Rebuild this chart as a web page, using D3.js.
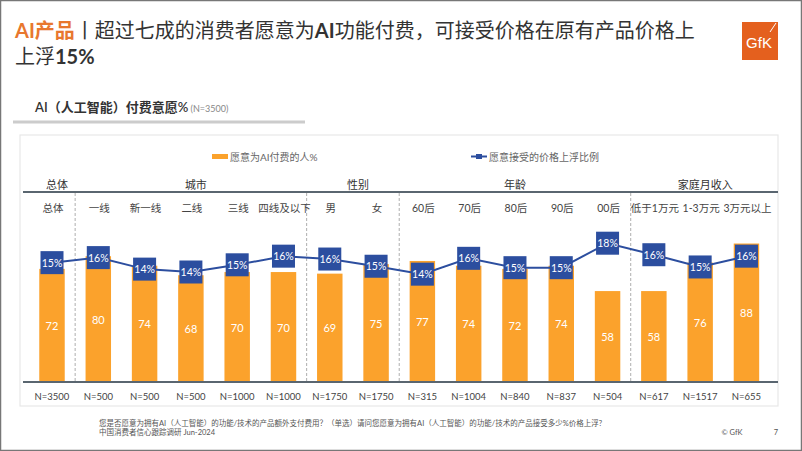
<!DOCTYPE html>
<html><head><meta charset="utf-8">
<script src="https://cdn.jsdelivr.net/npm/d3@7"></script>
<style>
html,body{margin:0;padding:0;background:#fff;}
svg{display:block;font-family:"Lato","Noto Sans CJK SC",sans-serif;}
</style></head>
<body>
<svg id="c" width="802" height="451"></svg>
<script>
const categories = ["总体","一线","新一线","二线","三线","四线及以下","男","女","60后","70后","80后","90后","00后","低于1万元","1-3万元","3万元以上"];
const groupOf = ["总体","城市","城市","城市","城市","城市","性别","性别","年龄","年龄","年龄","年龄","年龄","家庭月收入","家庭月收入","家庭月收入"];
const groupNames = ["总体","城市","性别","年龄","家庭月收入"];
const willingness = [72,80,74,68,70,70,69,75,77,74,72,74,58,58,76,88];
const priceUp = [15.3,16.0,14.4,14.0,15.0,16.2,15.8,14.8,13.7,15.9,14.6,14.6,18.0,16.4,14.7,16.2];
const sampleN = [3500,500,500,500,1000,1000,1750,1750,315,1004,840,837,504,617,1517,655];
const seriesNames = ["愿意为AI付费的人%","愿意接受的价格上浮比例"];

const svg = d3.select("#c");
const ORANGE = "#FBA22C", BLUE = "#2C4E9F", DARK = "#5a6670";

// slide border
svg.append("rect").attr("x",0.5).attr("y",0.5).attr("width",801).attr("height",450)
  .attr("fill","none").attr("stroke","#777").attr("stroke-width",1.5);

// title
const t1 = svg.append("text").attr("x",15).attr("y",38).attr("font-size",20).attr("fill","#333");
t1.append("tspan").text("AI产品").attr("fill","#E8772E").attr("font-weight","bold");
t1.append("tspan").text("丨超过七成的消费者愿意为");
t1.append("tspan").text("AI").attr("font-weight","bold");
t1.append("tspan").text("功能付费，可接受价格在原有产品价格上");
const t2 = svg.append("text").attr("x",15).attr("y",64).attr("font-size",20).attr("fill","#333");
t2.append("tspan").text("上浮");
t2.append("tspan").text("15%").attr("font-weight","bold");

// logo
const lg = svg.append("g");
lg.append("rect").attr("x",742).attr("y",22).attr("width",36).attr("height",38).attr("fill","#E4601E");
lg.append("text").attr("x",759).attr("y",48).attr("text-anchor","middle").attr("font-size",15)
  .attr("fill","#fff").attr("font-family","Liberation Sans, sans-serif").text("GfK");
lg.append("line").attr("x1",770).attr("y1",32).attr("x2",776).attr("y2",23).attr("stroke","#fff").attr("stroke-width",1);

// subtitle
const st = svg.append("text").attr("x",35).attr("y",112).attr("font-size",13).attr("fill","#333").attr("font-weight",600);
st.append("tspan").text("AI（人工智能）付费意愿%");
st.append("tspan").text(" (N=3500)").attr("font-size",9).attr("fill","#888").attr("font-weight",400);
svg.append("line").attr("x1",13).attr("x2",305).attr("y1",122).attr("y2",122).attr("stroke","#ccc").attr("stroke-width",3);

// panel
svg.append("rect").attr("x",20).attr("y",135).attr("width",758).attr("height",271)
  .attr("fill","none").attr("stroke","#e8e8e8").attr("stroke-width",1.2);

// scales
const x = d3.scaleBand().domain(categories).range([28.85,769.6]).paddingInner(0.45).paddingOuter(0.225);
const y = d3.scaleLinear().domain([0,100]).range([383,224.5]);
const y2 = d3.scaleLinear().domain([10,20]).range([300.8,228.8]);
const cx = c => x(c) + x.bandwidth()/2;

// legend
const lgd = svg.append("g").attr("font-size",10).attr("fill","#666");
lgd.append("rect").attr("x",212).attr("y",154).attr("width",16).attr("height",5).attr("fill",ORANGE);
lgd.append("text").attr("x",230).attr("y",160.5).text(seriesNames[0]);
lgd.append("line").attr("x1",471).attr("x2",487).attr("y1",156.5).attr("y2",156.5).attr("stroke",BLUE).attr("stroke-width",2);
lgd.append("rect").attr("x",476).attr("y",154).attr("width",6).attr("height",5).attr("fill",BLUE);
lgd.append("text").attr("x",489).attr("y",160.5).text(seriesNames[1]);

// group headers
groupNames.forEach(g => {
  const idx = categories.map((c,i)=>i).filter(i => groupOf[i]===g);
  const mid = (cx(categories[idx[0]]) + cx(categories[idx[idx.length-1]]))/2;
  svg.append("text").attr("x",mid + (g==="年龄"?0:5)).attr("y",189).attr("text-anchor","middle")
    .attr("font-size",11).attr("fill","#333").text(g);
});
svg.append("line").attr("x1",23).attr("x2",778).attr("y1",192).attr("y2",192).attr("stroke",DARK).attr("stroke-width",2);

// separators
for (let i=1;i<categories.length;i++){
  if (groupOf[i]!==groupOf[i-1]){
    const sx = (cx(categories[i-1]) + cx(categories[i]))/2;
    svg.append("line").attr("x1",sx).attr("x2",sx).attr("y1",193).attr("y2",382)
      .attr("stroke","#999").attr("stroke-width",0.8).attr("stroke-dasharray","3,2");
  }
}

// category labels
svg.append("g").selectAll("text").data(categories).join("text")
  .attr("x",d=>cx(d)+1).attr("y",212).attr("text-anchor","middle").attr("font-size",10.5).attr("fill","#444").text(d=>d);

// bars
svg.append("g").selectAll("rect").data(willingness).join("rect")
  .attr("x",(d,i)=>x(categories[i])).attr("width",x.bandwidth())
  .attr("y",d=>y(d)).attr("height",d=>y(0)-y(d)).attr("fill",ORANGE);
svg.append("g").selectAll("text").data(willingness).join("text")
  .attr("x",(d,i)=>cx(categories[i])).attr("y",d=>(y(d)+y(0))/2+4).attr("text-anchor","middle")
  .attr("font-size",11).attr("fill","#fff").text(d=>d);

// axis line
svg.append("line").attr("x1",23).attr("x2",778).attr("y1",382).attr("y2",382).attr("stroke",DARK).attr("stroke-width",2);

// N labels
svg.append("g").selectAll("text").data(sampleN).join("text")
  .attr("x",(d,i)=>cx(categories[i])).attr("y",400).attr("text-anchor","middle")
  .attr("font-size",9.5).attr("fill","#444").text(d=>"N="+d);

// line
const line = d3.line().x((d,i)=>cx(categories[i])).y(d=>y2(d));
svg.append("path").datum(priceUp).attr("d",line).attr("fill","none").attr("stroke",BLUE).attr("stroke-width",2);
const bx = svg.append("g").selectAll("g").data(priceUp).join("g")
  .attr("transform",(d,i)=>`translate(${cx(categories[i])},${y2(d)})`);
bx.append("rect").attr("x",-11.5).attr("y",-11.5).attr("width",23).attr("height",23).attr("fill",BLUE);
bx.append("text").attr("y",4).attr("text-anchor","middle").attr("font-size",10.5).attr("fill","#fff")
  .text(d=>d3.format(".0f")(d)+"%");

// footer
const ft = svg.append("g").attr("font-size",7.5).attr("fill","#555");
ft.append("text").attr("x",99).attr("y",426).text("您是否愿意为拥有AI（人工智能）的功能/技术的产品额外支付费用？（单选）请问您愿意为拥有AI（人工智能）的功能/技术的产品接受多少%价格上浮?");
ft.append("text").attr("x",99).attr("y",435).text("中国消费者信心跟踪调研 Jun-2024");
ft.append("text").attr("x",732).attr("y",435).attr("text-anchor","middle").text("© GfK");
ft.append("text").attr("x",776).attr("y",435).attr("text-anchor","middle").text("7");
</script>
</body></html>
